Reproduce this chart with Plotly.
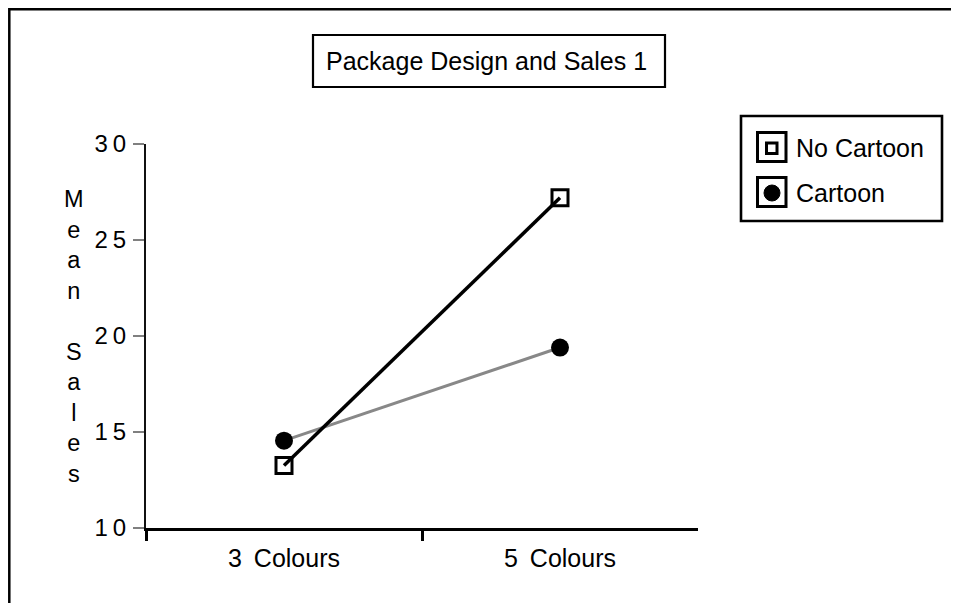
import plotly.graph_objects as go

# ---- data ----
categories = ["3 Colours", "5 Colours"]
category_labels = ["3 \u2009Colours", "5 \u2009Colours"]
no_cartoon = [13.25, 27.2]
cartoon = [14.55, 19.4]
y_ticks = [10, 15, 20, 25, 30]
y_tick_labels = ["1\u20090", "1\u20095", "2\u20090", "2\u20095", "3\u20090"]
series_names = ["No Cartoon", "Cartoon"]
title_text = "Package Design and Sales 1"
y_title = "Mean Sales"

# the page puts the figure at (8, 8); all pixel numbers below are page pixels
OX, OY = 8, 8
W, H = 959 - OX, 603 - OY
L, R, T, B = 146, 698, 144, 528  # plot area in page pixels
FONT = "Liberation Sans, Arial, sans-serif"


def px(xp):
    return (xp - L) / (R - L)


def py(yp):
    return (B - yp) / (B - T)


fig = go.Figure()

# Cartoon: grey line with filled circles
fig.add_trace(go.Scatter(
    x=categories, y=cartoon, mode="lines+markers", name=series_names[1],
    line=dict(color="#888888", width=3),
    marker=dict(symbol="circle", size=18, color="black"),
    showlegend=False,
))
# No Cartoon: square markers, then the black line drawn over them
fig.add_trace(go.Scatter(
    x=categories, y=no_cartoon, mode="markers", name=series_names[0],
    marker=dict(symbol="square", size=16, color="white",
                line=dict(color="black", width=3)),
    showlegend=False,
))
fig.add_trace(go.Scatter(
    x=categories, y=no_cartoon, mode="lines", name=series_names[0],
    line=dict(color="black", width=3.5),
    showlegend=False,
))
# invisible copy on the overlay axis that carries the boundary tick marks
fig.add_trace(go.Scatter(
    x=list(range(len(categories))), y=no_cartoon, xaxis="x2", mode="markers",
    marker=dict(opacity=0), hoverinfo="skip", showlegend=False,
))

shapes = []
annotations = []

# outer frame (open to the right and bottom)
shapes.append(dict(type="rect", xref="paper", yref="paper",
                   x0=px(OX + 1.3), x1=px(975), y0=py(OY + 1.3), y1=py(620),
                   line=dict(color="black", width=2.5), layer="below"))

# title box
shapes.append(dict(type="rect", xref="paper", yref="paper",
                   x0=px(313), x1=px(665), y0=py(35), y1=py(87),
                   line=dict(color="black", width=2.2)))
annotations.append(dict(xref="paper", yref="paper", x=px(486), y=py(61),
                        text=title_text, showarrow=False,
                        xanchor="center", yanchor="middle",
                        font=dict(family=FONT, size=25, color="black")))

# y-axis title, one letter per line
letters = "<br>".join(ch if ch != " " else "\u00a0" for ch in y_title)
annotations.append(dict(xref="paper", yref="paper", x=px(74), y=py(336),
                        text=letters, showarrow=False,
                        xanchor="center", yanchor="middle",
                        font=dict(family=FONT, size=23.5, color="black")))

# legend box
shapes.append(dict(type="rect", xref="paper", yref="paper",
                   x0=px(741), x1=px(942), y0=py(116), y1=py(221),
                   line=dict(color="black", width=2.6)))
key_centers = [147, 192]
for i, cy in enumerate(key_centers):
    shapes.append(dict(type="rect", xref="paper", yref="paper",
                       x0=px(757.5), x1=px(786), y0=py(cy - 14.5), y1=py(cy + 14.5),
                       line=dict(color="black", width=3)))
    annotations.append(dict(xref="paper", yref="paper", x=px(794), y=py(cy + 1),
                            text=series_names[i], showarrow=False,
                            xanchor="left", yanchor="middle",
                            font=dict(family=FONT, size=25, color="black")))
# legend symbols
shapes.append(dict(type="rect", xref="paper", yref="paper",
                   x0=px(766.5), x1=px(777), y0=py(143), y1=py(153.5),
                   fillcolor="white", line=dict(color="black", width=3)))
shapes.append(dict(type="circle", xref="paper", yref="paper",
                   x0=px(764), x1=px(780), y0=py(185), y1=py(201),
                   fillcolor="black", line=dict(color="black", width=1)))

fig.update_layout(
    width=W, height=H,
    margin=dict(l=L - OX, r=W - (R - OX), t=T - OY, b=H - (B - OY)),
    paper_bgcolor="white", plot_bgcolor="white",
    showlegend=False,
    font=dict(family=FONT, size=24, color="black"),
    shapes=shapes, annotations=annotations,
    xaxis=dict(
        type="category", range=[-0.5, 1.5],
        tickvals=categories, ticktext=category_labels,
        ticks="outside", ticklen=2, tickcolor="rgba(0,0,0,0)",
        ticklabelstandoff=4,
        showline=True, linecolor="black", linewidth=2.6,
        showgrid=False, zeroline=False,
        tickfont=dict(family=FONT, size=25, color="black"),
    ),
    xaxis2=dict(
        overlaying="x", anchor="y", side="bottom",
        range=[-0.5, 1.5], tickvals=[-0.5, 0.5],
        ticks="outside", ticklen=12, tickwidth=2.6, tickcolor="black",
        showticklabels=False, showline=False, showgrid=False, zeroline=False,
    ),
    yaxis=dict(
        range=[10, 30], tickvals=y_ticks, ticktext=y_tick_labels,
        ticks="outside", ticklen=11, tickwidth=2, tickcolor="#808080",
        ticklabelstandoff=2,
        showline=True, linecolor="#111111", linewidth=2.4,
        showgrid=False, zeroline=False,
        tickfont=dict(family=FONT, size=24, color="black"),
    ),
)

fig.write_html("out.html")
